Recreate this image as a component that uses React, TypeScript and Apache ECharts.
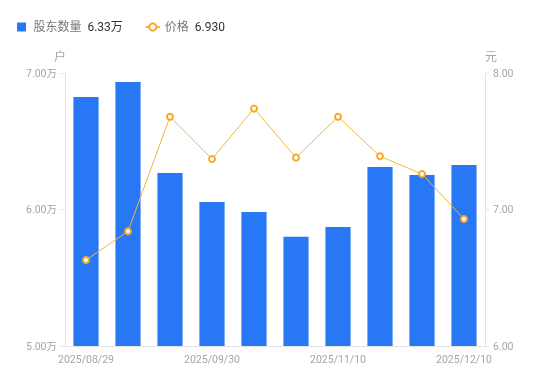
import React, { useEffect, useRef } from "react";
import * as echarts from "echarts";

const categories = [
  "2025/08/29", "2025/09/10", "2025/09/19", "2025/09/30", "2025/10/20",
  "2025/10/31", "2025/11/10", "2025/11/20", "2025/11/28", "2025/12/10",
];
const holders = [6.824, 6.934, 6.267, 6.055, 5.982, 5.80, 5.872, 6.311, 6.253, 6.326];
const prices = [6.63, 6.84, 7.68, 7.37, 7.74, 7.38, 7.68, 7.39, 7.26, 6.93];
const legendValues: Record<string, string> = { "股东数量": "6.33万", "价格": "6.930" };

const FONT = 'Roboto, "Noto Sans CJK SC", sans-serif';

export default function App() {
  const ref = useRef<HTMLDivElement>(null);
  useEffect(() => {
    if (!ref.current) return;
    const chart = echarts.init(ref.current, undefined, { renderer: "svg" });
    chart.setOption({
      animation: false,
      textStyle: { fontFamily: FONT },
      legend: {
        left: 12,
        top: 16,
        itemWidth: 14,
        itemHeight: 9,
        itemGap: 22,
        data: [
          { name: "股东数量", icon: "path://M0,0H10V10H0Z" },
          { name: "价格" },
        ],
        formatter: (name: string) => `{n|${name}}  {v|${legendValues[name]}}`,
        textStyle: {
          fontFamily: FONT,
          rich: {
            n: { color: "#777", fontSize: 12, fontFamily: FONT },
            v: { color: "#333", fontSize: 12, fontFamily: FONT },
          },
        },
      },
      grid: { left: 65, right: 65, top: 73, bottom: 35 },
      xAxis: {
        type: "category",
        data: categories,
        axisLine: { lineStyle: { color: "#e3e3e3" } },
        axisTick: { show: false },
        axisLabel: { color: "#a3a5ad", fontSize: 10.5, interval: 2, margin: 8 },
      },
      yAxis: [
        {
          type: "value",
          min: 5,
          max: 7,
          interval: 1,
          name: "户",
          nameGap: 10,
          nameTextStyle: { color: "#a3a5ad", fontSize: 12, align: "right", padding: [0, -1, 0, 0] },
          axisLine: { show: true, lineStyle: { color: "#e3e3e3" } },
          axisTick: { show: true, length: 4, lineStyle: { color: "#e3e3e3" } },
          splitLine: { show: false },
          axisLabel: {
            color: "#a3a5ad",
            fontSize: 10.5,
            margin: 8,
            formatter: (v: number) => v.toFixed(2) + "万",
          },
        },
        {
          type: "value",
          min: 6,
          max: 8,
          interval: 1,
          name: "元",
          nameGap: 10,
          nameTextStyle: { color: "#a3a5ad", fontSize: 12, align: "left", padding: [0, 0, 0, 0] },
          axisLine: { show: true, lineStyle: { color: "#e3e3e3" } },
          axisTick: { show: true, length: 4, lineStyle: { color: "#e3e3e3" } },
          splitLine: { show: false },
          axisLabel: {
            color: "#a3a5ad",
            fontSize: 10.5,
            margin: 8,
            formatter: (v: number) => v.toFixed(2),
          },
        },
      ],
      series: [
        {
          name: "股东数量",
          type: "bar",
          data: holders,
          barWidth: "60%",
          itemStyle: { color: "#2878f5" },
        },
        {
          name: "价格",
          type: "line",
          yAxisIndex: 1,
          data: prices,
          symbol: "circle",
          symbolSize: 6,
          itemStyle: { color: "#fff", borderColor: "#f7a928", borderWidth: 2 },
          lineStyle: { color: "#f7b23b", width: 1 },
          color: "#f7a928",
        },
      ],
    });
    return () => chart.dispose();
  }, []);
  return (
    <div
      ref={ref}
      style={{ position: "fixed", left: 0, top: 0, width: 550, height: 381 }}
    />
  );
}
